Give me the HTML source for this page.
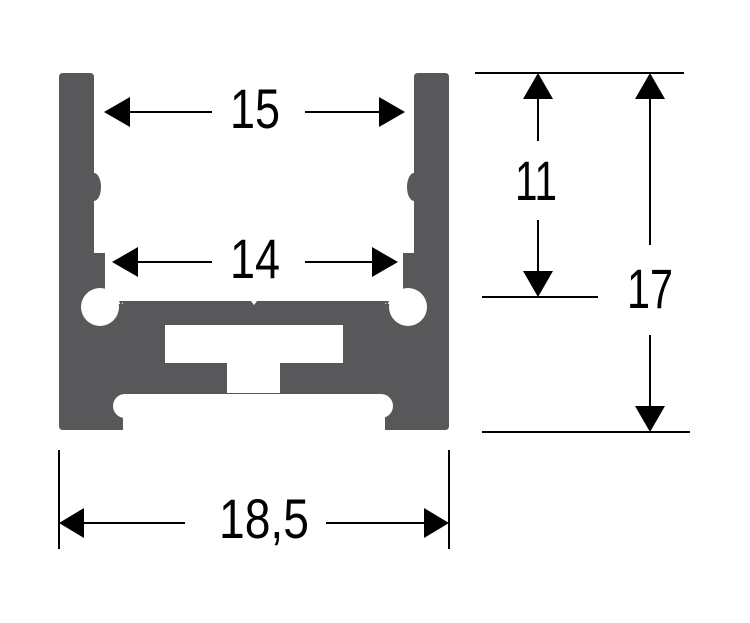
<!DOCTYPE html>
<html><head><style>html,body{margin:0;padding:0;background:#fff}svg{display:block}</style></head>
<body>
<svg width="750" height="623" viewBox="0 0 750 623" xmlns="http://www.w3.org/2000/svg">
<rect width="750" height="623" fill="#fff"/>
<!-- profile -->
<g fill="#58585a">
<path d="M63,73 H90 Q94,73 94,77 V253 H105 V282 L118,301 H390 L403,282 V253 H414 V77 Q414,73 418,73 H445 Q449,73 449,77 V426 Q449,430 445,430 H63 Q59,430 59,426 V77 Q59,73 63,73 Z"/>
<ellipse cx="94" cy="187" rx="7" ry="14"/>
<ellipse cx="414" cy="187" rx="7" ry="14"/>
</g>
<g fill="#fff">
<rect x="105" y="282" width="18" height="22"/>
<rect x="385" y="282" width="18" height="22"/>
<circle cx="100" cy="307" r="19"/>
<circle cx="408" cy="307" r="19"/>
<rect x="165" y="325" width="178" height="38"/>
<rect x="227" y="360" width="53" height="33"/>
<rect x="113" y="394" width="280" height="24" rx="12"/>
<rect x="123" y="405" width="262" height="30"/>
<polygon points="251,301 257,301 254,305"/>
</g>
<g fill="#58585a">
<path d="M119,301 H128 Q122,301 121,306 Z"/>
<path d="M389,301 H380 Q386,301 387,306 Z"/>
</g>
<!-- dimension lines -->
<g stroke="#000" stroke-width="2" fill="none">
<line x1="130" y1="112" x2="212" y2="112"/><line x1="305" y1="112" x2="382" y2="112"/>
<line x1="136" y1="262" x2="212" y2="262"/><line x1="305" y1="262" x2="376" y2="262"/>
<line x1="475" y1="73" x2="684" y2="73"/>
<line x1="482" y1="297" x2="598" y2="297"/>
<line x1="482" y1="432" x2="690" y2="432"/>
<line x1="538" y1="96" x2="538" y2="141"/><line x1="538" y1="220" x2="538" y2="275"/>
<line x1="650" y1="96" x2="650" y2="245"/><line x1="650" y1="335" x2="650" y2="410"/>
<line x1="59" y1="450" x2="59" y2="549"/><line x1="449" y1="450" x2="449" y2="549"/>
<line x1="80" y1="523" x2="185" y2="523"/><line x1="326" y1="523" x2="428" y2="523"/>
</g>
<g fill="#000">
<polygon points="104,112 130,97 130,127"/>
<polygon points="405,112 379,97 379,127"/>
<polygon points="112,262 138,247 138,277"/>
<polygon points="398,262 372,247 372,277"/>
<polygon points="538,73 523,99 553,99"/>
<polygon points="538,297 523,271 553,271"/>
<polygon points="650,73 635,99 665,99"/>
<polygon points="650,432 635,406 665,406"/>
<polygon points="59,523 84,508 84,538"/>
<polygon points="449,523 424,508 424,538"/>
</g>
<g font-family="Liberation Sans, Arial, sans-serif" font-size="56" fill="#000">
<text x="230" y="128" textLength="50" lengthAdjust="spacingAndGlyphs">15</text>
<text x="230" y="278" textLength="50" lengthAdjust="spacingAndGlyphs">14</text>
<text x="515" y="200" textLength="42" lengthAdjust="spacingAndGlyphs">11</text>
<text x="627" y="308" textLength="46" lengthAdjust="spacingAndGlyphs">17</text>
<text x="219" y="538" textLength="90" lengthAdjust="spacingAndGlyphs">18,5</text>
</g>
</svg>
</body></html>
